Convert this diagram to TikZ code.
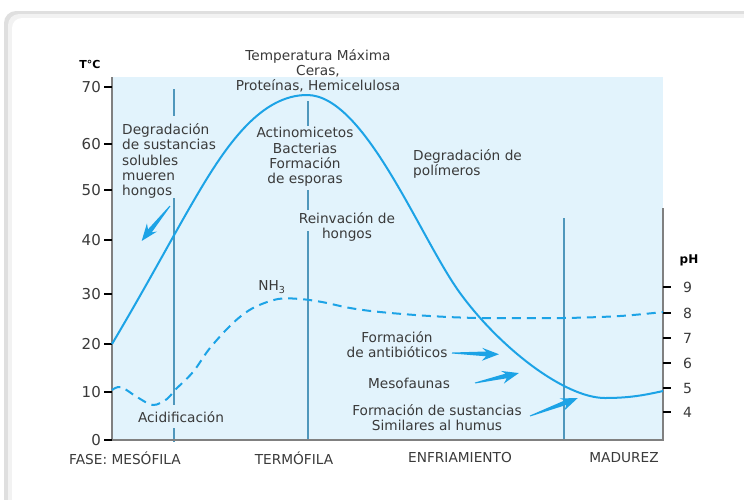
\documentclass[tikz,border=0pt]{standalone}
\usepackage{fontspec}
\setmainfont{DejaVu Sans}
\definecolor{bgblue}{HTML}{E2F3FC}
\definecolor{cblue}{HTML}{1CA3E6}
\definecolor{lblue}{HTML}{4F97BC}
\definecolor{axgray}{HTML}{808080}
\definecolor{txt}{HTML}{3A3A3A}
\newcommand\fatarr[3]{\begin{scope}[shift={(#1)},rotate=#2]
\fill[cblue] (0,0.5) -- (#3-13,2.4) -- (#3-17,7) -- (#3,0) -- (#3-17,-6) -- (#3-13,-2.4) -- (0,-0.5) -- cycle;
\end{scope}}
\begin{document}
\begin{tikzpicture}[x=1pt,y=-1pt,
  lbl/.style={font=\fontsize{13.7}{15.2}\selectfont, text=txt, inner sep=0pt, align=center},
  num/.style={font=\fontsize{15}{15}\selectfont, text=txt, inner sep=0pt},
  phnum/.style={font=\fontsize{14}{14}\selectfont, text=txt, inner sep=0pt, anchor=west},
  phase/.style={font=\fontsize{13.7}{15}\selectfont, text=txt, inner sep=0pt},
  vline/.style={lblue, line width=2.2pt},
  axis/.style={axgray, line width=2pt},
  tick/.style={black, line width=1.6pt},
  tcurve/.style={cblue, line width=2pt},
  phcurve/.style={cblue, line width=2pt, dash pattern=on 9pt off 6pt}]
\clip (0,0) rectangle (744,499);
% card
\fill[white] (0,0) rectangle (744,499);
\fill[gray!25, rounded corners=12] (4,11) rectangle (800,560);
\fill[gray!10, rounded corners=11] (8,14) rectangle (800,560);
\fill[white, rounded corners=10] (12,18) rectangle (800,560);
% plot area
\fill[bgblue] (112,77) rectangle (663,440);
% vertical phase lines
\draw[vline] (174,89) -- (174,116);
\draw[vline] (174,198) -- (174,405);
\draw[vline] (174,428) -- (174,442);
\draw[vline] (308,101) -- (308,126);
\draw[vline] (308,190) -- (308,210);
\draw[vline] (308,231) -- (308,441);
\draw[vline] (564,218) -- (564,441);
% axes
\draw[axis] (112,77) -- (112,441);
\draw[axis] (111,440) -- (664,440);
\draw[axis] (663,208) -- (663,441);
% left ticks
\foreach \y/\t in {87/70,144/60,190/50,240/40,294/30,344/20,392/10,440/0}{
  \draw[tick] (104,\y) -- (112,\y);
  \node[num, anchor=east] at (101,\y) {\t};
}
% right ticks
\foreach \y/\t in {287/9,313/8,338/7,363/6,388/5,412/4}{
  \draw[tick] (663,\y) -- (671,\y);
  \node[phnum] at (683,\y) {\t};
}
\node[font=\bfseries\fontsize{11}{12}\selectfont, inner sep=0pt] (tc) at (90,64) {T°C};
\node[font=\bfseries\fontsize{12}{12}\selectfont, inner sep=0pt] (ph) at (689,260) {pH};
% temperature curve
\draw[tcurve] (112,344) .. controls (150,280) and (175,232) .. (200,190)
  .. controls (228,143) and (262,95) .. (307,95)
  .. controls (365,95) and (420,238) .. (460,293)
  .. controls (500,348) and (565,398) .. (605,398)
  .. controls (630,398) and (645,395) .. (663,391);
% pH curve
\draw[phcurve] plot[smooth, tension=0.55] coordinates {(112,390) (121,387) (137,397) (153,405) (167,399) (175,390) (193,372) (210,348) (233,323) (253,308) (278,299) (300,299) (322,302) (350,308) (380,312) (430,316) (480,318) (563,318) (620,316) (663,312)};
% labels
\node[lbl] (tmax) at (318,71) {Temperatura Máxima\\Ceras,\\Proteínas, Hemicelulosa};
\node[lbl, align=left, anchor=west] (deg) at (122,161) {Degradación\\de sustancias\\solubles\\mueren\\hongos};
\node[lbl] (act) at (305,157) {Actinomicetos\\Bacterias\\Formación\\de esporas};
\node[lbl] (rein) at (347,227) {Reinvación de\\hongos};
\node[lbl, align=left, anchor=west] (pol) at (413,164) {Degradación de\\polímeros};
\node[lbl] (nh) at (272,287) {NH\textsubscript{3}};
\node[lbl] (anti) at (397,345) {Formación\\de antibióticos};
\node[lbl] (meso) at (409,383) {Mesofaunas};
\node[lbl] (hum) at (437,418) {Formación de sustancias\\Similares al humus};
\node[lbl] (acid) at (181,417) {Acidificación};
% phase names
\node[phase] (f1) at (125,458) {FASE: MESÓFILA};
\node[phase] (f2) at (294,458) {TERMÓFILA};
\node[phase] (f3) at (460,458) {ENFRIAMIENTO};
\node[phase] (f4) at (624,458) {MADUREZ};
% pointer arrows
\coordinate (a0) at (170,206);
\coordinate (a1) at (452,353);
\coordinate (a2) at (475,383);
\coordinate (a3) at (530,416);
\fatarr{a0}{231}{45}
\fatarr{a1}{-1.5}{47}
\fatarr{a2}{12.8}{45}
\fatarr{a3}{20.6}{51}
\end{tikzpicture}
\end{document}
